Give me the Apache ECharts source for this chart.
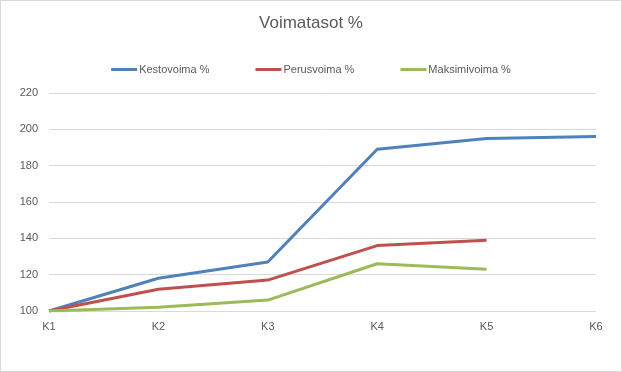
<!DOCTYPE html>
<html><head><meta charset="utf-8">
<script src="https://cdn.jsdelivr.net/npm/echarts@6/dist/echarts.min.js"></script>
<style>
html,body{margin:0;padding:0;background:#fff;}
#c{position:absolute;left:0;top:0;width:620px;height:370px;border:1px solid #d9d9d9;}
</style></head><body>
<div id="c"></div>
<script>
var categories = ['K1','K2','K3','K4','K5','K6'];
var kestovoima = [100,118,127,189,195,196];
var perusvoima = [100,112,117,136,139,null];
var maksimivoima = [100,102,106,126,123,null];
var seriesNames = ['Kestovoima %','Perusvoima %','Maksimivoima %'];
var colors = ['#4F81BD','#C0504D','#9BBB59'];

var chart = echarts.init(document.getElementById('c'));
var font = 'Liberation Sans';
function mk(name, data, color){
  return {name:name,type:'line',data:data,symbol:'none',showSymbol:false,
    lineStyle:{width:3,color:color},itemStyle:{color:color},connectNulls:false};
}
chart.setOption({
  animation:false,
  color:colors,
  title:{text:'Voimatasot %',left:'center',top:9,
    textStyle:{fontFamily:font,fontSize:17,fontWeight:'normal',color:'#595959'}},
  legend:{top:58,left:'center',itemGap:46,itemWidth:26,itemHeight:3,icon:'rect',
    textStyle:{fontFamily:font,fontSize:11,color:'#595959',padding:[0,0,0,-3]},
    data:seriesNames},
  grid:{left:48,right:25,top:92,bottom:60,containLabel:false},
  xAxis:{type:'category',data:categories,boundaryGap:false,
    axisLine:{show:false},axisTick:{show:false},
    axisLabel:{fontFamily:font,fontSize:11,color:'#595959',margin:10},
    splitLine:{show:false}},
  yAxis:{type:'value',min:100,max:220,interval:20,
    axisLine:{show:false},axisTick:{show:false},
    axisLabel:{fontFamily:font,fontSize:11,color:'#595959',margin:11},
    splitLine:{lineStyle:{color:'#d9d9d9',width:1}}},
  series:[mk(seriesNames[0],kestovoima,colors[0]),mk(seriesNames[1],perusvoima,colors[1]),mk(seriesNames[2],maksimivoima,colors[2])]
});
</script></body></html>
